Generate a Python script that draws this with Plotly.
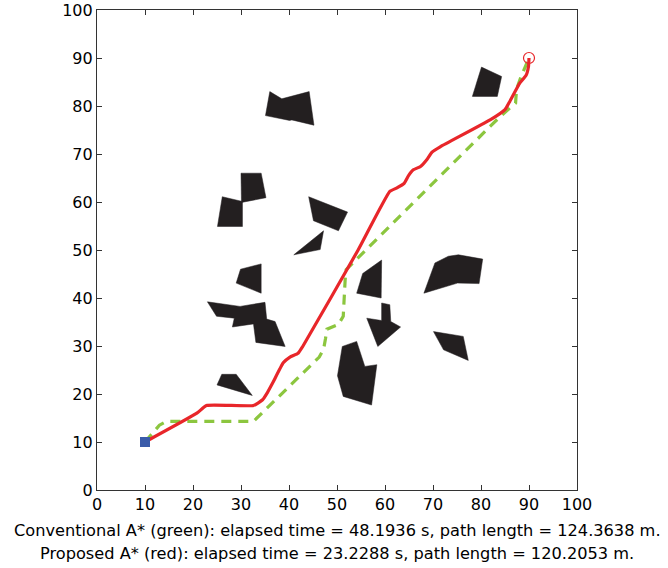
import plotly.graph_objects as go

# ---------------- data ----------------
# Obstacle polygons (x, y vertices)
obstacle_01 = [(36.0, 83.0), (38.5, 81.5), (44.2, 83.0), (45.2, 76.0), (40.6, 77.1), (40.1, 77.0), (35.1, 78.0)]
obstacle_02 = [(30.0, 66.0), (34.2, 66.0), (35.2, 60.9), (30.1, 59.9)]
obstacle_03 = [(26.1, 61.1), (30.3, 60.1), (30.3, 54.9), (25.1, 54.9)]
obstacle_04 = [(44.1, 61.1), (52.2, 57.9), (50.3, 54.0), (45.1, 56.1)]
obstacle_05 = [(47.2, 54.0), (46.5, 50.1), (41.0, 49.0)]
obstacle_06 = [(29.0, 43.1), (29.9, 46.0), (34.2, 47.1), (34.2, 41.0)]
obstacle_07 = [(23.0, 39.2), (29.8, 38.25), (35.0, 39.1), (35.35, 35.6), (37.1, 35.1), (39.2, 29.9),
               (33.1, 30.75), (32.6, 34.6), (28.2, 33.96), (28.6, 35.8), (24.9, 36.2)]
obstacle_08 = [(26.0, 24.1), (29.0, 24.1), (32.35, 19.7), (25.0, 21.9)]
obstacle_09 = [(55.35, 45.1), (59.3, 47.9), (59.2, 40.0), (54.1, 41.0)]
obstacle_10 = [(59.3, 38.96), (61.0, 38.6), (61.2, 35.1), (63.25, 33.96), (58.5, 29.9), (56.2, 35.8), (59.3, 35.3)]
obstacle_11 = [(51.1, 29.9), (54.1, 30.96), (55.8, 25.75), (58.3, 26.1), (57.2, 17.7), (51.3, 19.5), (50.1, 23.8)]
obstacle_12 = [(70.4, 47.3), (73.2, 48.7), (75.3, 49.0), (80.35, 48.1), (79.6, 43.0), (75.1, 43.1), (68.1, 41.0)]
obstacle_13 = [(70.1, 33.0), (76.3, 32.0), (77.35, 27.0), (72.2, 29.2)]
obstacle_14 = [(80.1, 88.1), (84.3, 86.15), (83.4, 82.0), (78.2, 82.0)]
obstacles = [obstacle_01, obstacle_02, obstacle_03, obstacle_04, obstacle_05, obstacle_06, obstacle_07,
             obstacle_08, obstacle_09, obstacle_10, obstacle_11, obstacle_12, obstacle_13, obstacle_14]

# Conventional A* path (green)
green_x = [10, 13.0, 14.5, 32.6, 46.3, 47.2, 47.6, 47.9, 50.3, 51.3, 51.7, 51.9, 81.9, 84.0, 87.2, 87.4, 88.3, 90]
green_y = [10, 13.5, 14.3, 14.3, 27.7, 29.3, 31.5, 33.5, 34.5, 36.2, 43.8, 45.9, 75.75, 77.8, 80.6, 83.5, 86.0, 90]

# Proposed A* path (red)
red_x = [10, 20.8, 22.8, 32.6, 34.5, 35.5, 36.7, 38.8, 40.2, 41.9, 42.8, 54.4, 61.0, 62.4, 64.0, 64.9,
         65.9, 67.4, 68.7, 69.8, 71.5, 81.9, 85.0, 86.0, 88.1, 89.4, 89.9, 90]
red_y = [10, 16.0, 17.6, 17.6, 18.8, 20.3, 22.5, 26.5, 27.7, 28.5, 29.8, 50.0, 62.2, 62.9, 63.9, 65.5,
         66.7, 67.4, 68.8, 70.4, 71.5, 77.1, 79.25, 80.95, 84.8, 86.4, 88.3, 90]

start_pt = (10, 10)
goal_pt = (90, 90)

tick_vals = [0, 10, 20, 30, 40, 50, 60, 70, 80, 90, 100]
caption_lines = [
    "Conventional A* (green): elapsed time = 48.1936 s, path length = 124.3638 m.",
    "Proposed A* (red): elapsed time = 23.2288 s, path length = 120.2053 m.",
]

FONT = "DejaVu Sans, Liberation Sans, Arial, sans-serif"

# ---------------- figure ----------------
fig = go.Figure()

for poly in obstacles:
    xs = [p[0] for p in poly] + [poly[0][0]]
    ys = [p[1] for p in poly] + [poly[0][1]]
    fig.add_trace(go.Scatter(x=xs, y=ys, mode="lines", fill="toself",
                             fillcolor="#231f20", line=dict(color="#231f20", width=0.5),
                             showlegend=False, hoverinfo="skip"))

fig.add_trace(go.Scatter(x=green_x, y=green_y, mode="lines",
                         line=dict(color="#8cc63f", width=3.2, dash="10px,7px"),
                         showlegend=False))
fig.add_trace(go.Scatter(x=red_x, y=red_y, mode="lines",
                         line=dict(color="#e8262a", width=3.2, shape="spline", smoothing=0.4),
                         showlegend=False))
fig.add_trace(go.Scatter(x=[start_pt[0]], y=[start_pt[1]], mode="markers",
                         marker=dict(symbol="square", size=10, color="#3a5ba9",
                                     line=dict(width=0)),
                         showlegend=False))
fig.add_trace(go.Scatter(x=[goal_pt[0]], y=[goal_pt[1]], mode="markers",
                         marker=dict(symbol="circle-open", size=11, color="#e8262a",
                                     line=dict(width=1.2, color="#e8262a")),
                         showlegend=False))

axis_common = dict(range=[0, 100], tickvals=tick_vals, ticks="inside", ticklen=5,
                   tickcolor="#333333", showline=True, linecolor="#333333", linewidth=1.2,
                   mirror="ticks", showgrid=False, zeroline=False, automargin=False,
                   tickfont=dict(family=FONT, size=16, color="black"))

fig.update_layout(
    width=668, height=568,
    margin=dict(l=97, r=91, t=10, b=78),
    plot_bgcolor="white", paper_bgcolor="white",
    xaxis=dict(**axis_common),
    yaxis=dict(**axis_common),
    font=dict(family=FONT, color="black"),
)

for i, line in enumerate(caption_lines):
    fig.add_annotation(text=line, xref="paper", yref="paper", x=0.5, y=0,
                       xanchor="center", yanchor="middle", yshift=-40 - 23 * i,
                       showarrow=False,
                       font=dict(family=FONT, size=16.2, color="black"))

fig.write_html("out.html", config={"displayModeBar": False},
               post_script="document.body.style.margin='0';document.body.style.overflow='hidden';")
